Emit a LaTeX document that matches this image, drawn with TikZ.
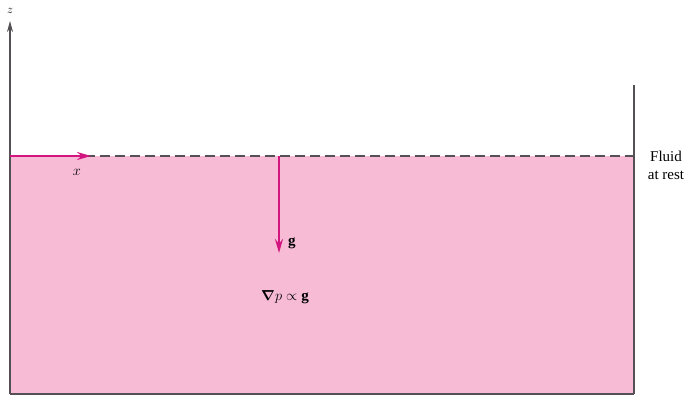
\documentclass[tikz,border=0pt]{standalone}
\usepackage{fontspec}
\setmainfont{Liberation Serif}
\usepackage{bm}
\usetikzlibrary{arrows.meta}
\definecolor{fluido}{HTML}{F7BBD6}
\definecolor{flecha}{HTML}{D3157F}
\definecolor{pared}{HTML}{555055}
\tikzset{
  wall/.style={draw=pared, line width=1.6pt},
  vec/.style={draw=flecha, line width=2pt, -{Stealth[length=14pt,width=8pt]}},
  lbl/.style={inner sep=0pt, font=\fontsize{15}{18}\selectfont}
}
\begin{document}
\begin{tikzpicture}[x=1pt,y=1pt]
    \useasboundingbox (0,0) rectangle (696,396);
    % Fluido en reposo
    \fill[fluido] (10,2) rectangle (634,240);
    % Paredes del tanque
    \coordinate (ztop) at (10,375);
    \coordinate (walltop) at (634,311);
    \draw[wall] (10,2) -- (634,2);
    \draw[wall] (634,2) -- (walltop);
    \draw[wall, -{Stealth[length=11pt,width=6pt]}] (10,2) -- (ztop);
    \node[lbl, font=\fontsize{13}{15}\selectfont] (zlab) at (10,385) {$z$};
    % Superficie libre
    \coordinate (s0) at (10,240);
    \coordinate (s1) at (634,240);
    \draw[pared, dash pattern=on 10pt off 5pt, line width=1.1pt] (s0) -- (s1);
    % Eje x
    \coordinate (xend) at (91,240);
    \draw[vec] (s0) -- (xend);
    \node[lbl] (xlab) at (77,224) {$x$};
    % Gravedad
    \coordinate (gtop) at (279,240);
    \coordinate (gend) at (279,143);
    \draw[vec] (gtop) -- (gend);
    \node[lbl, anchor=west] (glab) at (288,153) {$\mathbf{g}$};
    \node[lbl] (grad) at (285,99) {$\bm{\nabla}p \propto\mathbf{g}$};
    % Etiqueta
    \node[lbl, align=center] (rest) at (666,231) {Fluid\\at rest};
\end{tikzpicture}
\end{document}
